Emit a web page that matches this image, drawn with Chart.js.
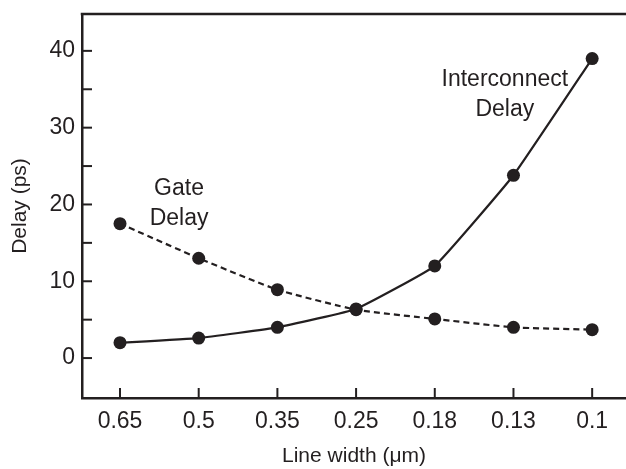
<!DOCTYPE html>
<html>
<head>
<meta charset="utf-8">
<script src="https://cdn.jsdelivr.net/npm/chart.js@4/dist/chart.umd.min.js"></script>
<style>
html,body{margin:0;padding:0;background:#fff;overflow:hidden;}
canvas{display:block;}
</style>
</head>
<body>
<canvas id="c" width="626" height="469"></canvas>
<script>
const categories = ['0.65','0.5','0.35','0.25','0.18','0.13','0.1'];
const interconnectDelay = [2.0, 2.6, 4.0, 6.4, 12.0, 23.8, 39.0];
const gateDelay = [17.5, 13.0, 8.9, 6.3, 5.1, 4.0, 3.7];
const yTickValues = [0, 5, 10, 15, 20, 25, 30, 35, 40];
const yTickLabels = ['0','','10','','20','','30','','40'];

const INK = '#231f20';
const FONT = '"Liberation Sans", Arial, sans-serif';
const FS = 23;

const toXY = arr => arr.map((v, i) => ({x: i, y: v}));

const labelsPlugin = {
  id: 'extras',
  afterDraw(chart) {
    const {ctx, chartArea, scales} = chart;
    const xs = scales.x, ys = scales.y;
    ctx.save();
    ctx.strokeStyle = INK;
    ctx.lineWidth = 2.5;
    ctx.beginPath();
    ctx.moveTo(chartArea.left - 1.25, chartArea.top);
    ctx.lineTo(chartArea.right, chartArea.top);
    ctx.stroke();
    ctx.lineWidth = 2;
    yTickValues.forEach(v => {
      const py = ys.getPixelForValue(v);
      ctx.beginPath();
      ctx.moveTo(chartArea.left, py);
      ctx.lineTo(chartArea.left + 10, py);
      ctx.stroke();
    });
    categories.forEach((c, i) => {
      const px = xs.getPixelForValue(i);
      ctx.beginPath();
      ctx.moveTo(px, chartArea.bottom);
      ctx.lineTo(px, chartArea.bottom - 10);
      ctx.stroke();
    });
    ctx.fillStyle = INK;
    ctx.font = FS + 'px ' + FONT;
    ctx.textAlign = 'center';
    ctx.textBaseline = 'middle';
    ctx.fillText('Gate', xs.getPixelForValue(0.75), ys.getPixelForValue(22.0));
    ctx.fillText('Delay', xs.getPixelForValue(0.75), ys.getPixelForValue(18.2));
    ctx.fillText('Interconnect', xs.getPixelForValue(4.89), ys.getPixelForValue(36.2));
    ctx.fillText('Delay', xs.getPixelForValue(4.89), ys.getPixelForValue(32.4));
    ctx.restore();
  }
};

new Chart(document.getElementById('c'), {
  type: 'line',
  data: {
    datasets: [
      {
        label: 'Interconnect Delay',
        data: toXY(interconnectDelay),
        borderColor: INK,
        backgroundColor: INK,
        borderWidth: 2.2,
        pointRadius: 6.5,
        pointHoverRadius: 6.5,
        pointBackgroundColor: INK,
        pointBorderWidth: 0,
        tension: 0.1
      },
      {
        label: 'Gate Delay',
        data: toXY(gateDelay),
        borderColor: INK,
        backgroundColor: INK,
        borderWidth: 2.2,
        borderDash: [6, 4],
        pointRadius: 6.5,
        pointHoverRadius: 6.5,
        pointBackgroundColor: INK,
        pointBorderWidth: 0,
        tension: 0.15
      }
    ]
  },
  options: {
    responsive: false,
    animation: false,
    events: [],
    layout: {autoPadding: false, padding: {top: 14, right: 0, left: 0, bottom: 0}},
    plugins: {legend: {display: false}, tooltip: {enabled: false}},
    scales: {
      x: {
        type: 'linear',
        min: -0.483,
        max: 6.43,
        afterBuildTicks: s => { s.ticks = categories.map((c, i) => ({value: i})); },
        afterFit: s => { s.height = 71; s.paddingLeft = 0; s.paddingRight = 0; },
        grid: {display: false, drawTicks: false},
        border: {display: true, color: INK, width: 2.5},
        ticks: {
          autoSkip: false,
          maxRotation: 0,
          padding: 10,
          color: INK,
          font: {family: FONT, size: FS},
          callback: v => categories[v]
        },
        title: {
          display: true,
          text: 'Line width (\u03bcm)',
          color: INK,
          font: {family: FONT, size: 21},
          padding: {top: 6, bottom: 0}
        }
      },
      y: {
        type: 'linear',
        min: -5.2,
        max: 44.8,
        afterBuildTicks: s => { s.ticks = yTickValues.map(v => ({value: v})); },
        afterFit: s => { s.width = 82; s.paddingTop = 0; s.paddingBottom = 0; },
        grid: {display: false, drawTicks: false},
        border: {display: true, color: INK, width: 2.5},
        ticks: {
          autoSkip: false,
          padding: 7,
          color: INK,
          font: {family: FONT, size: FS},
          callback: (v) => yTickLabels[yTickValues.indexOf(v)]
        },
        title: {
          display: true,
          text: 'Delay (ps)',
          color: INK,
          font: {family: FONT, size: 21},
          padding: {top: 8, bottom: 0}
        }
      }
    }
  },
  plugins: [labelsPlugin]
});
</script>
</body>
</html>
